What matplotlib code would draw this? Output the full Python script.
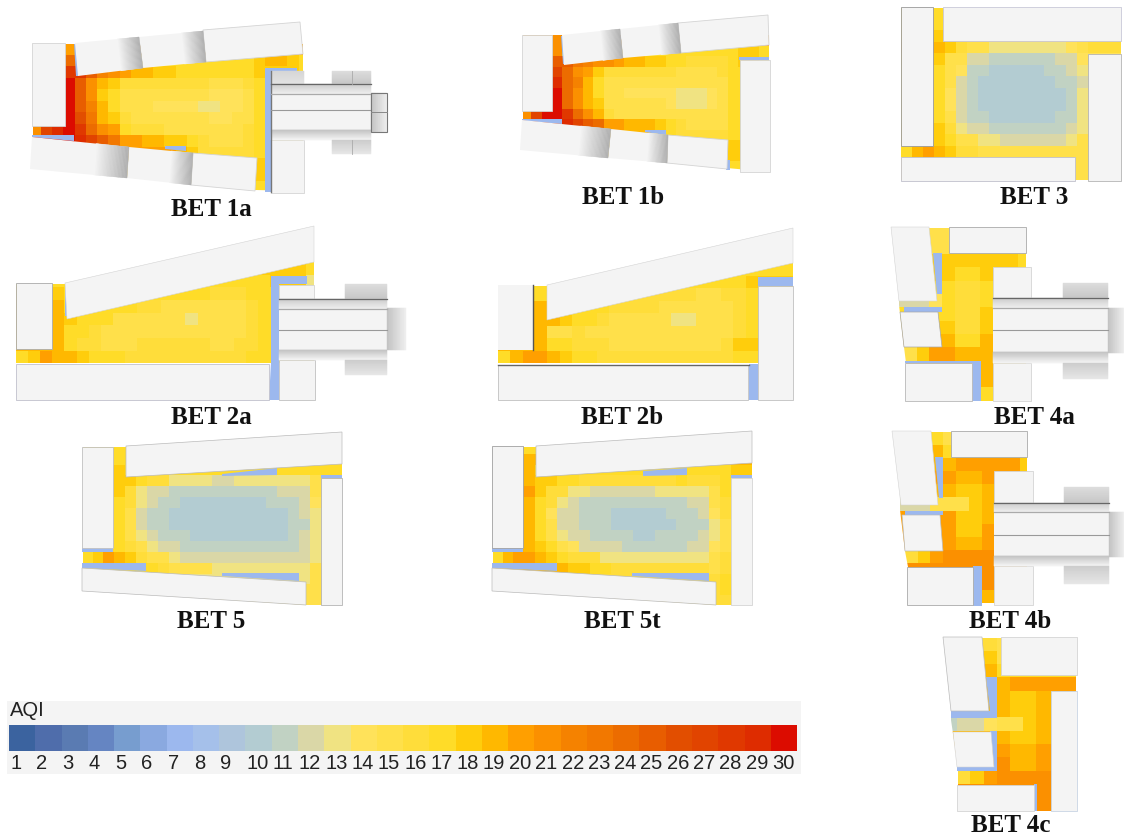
import numpy as np
import matplotlib
matplotlib.use('Agg')
import matplotlib.pyplot as plt
from matplotlib.colors import ListedColormap, BoundaryNorm
from matplotlib.patches import Polygon, Rectangle

# colour scale, AQI 1..30
aqi_values = list(range(1, 31))
aqi_colors = ['#3b639f', '#4f6dab', '#5a7bb2', '#6585c2', '#779dcf', '#8aa9e0', '#9cb8ee', '#a5c0ea',
              '#aec5dc', '#b3ccd2', '#c1d2c3', '#dad7a7', '#f0e382', '#ffe25a', '#ffe04a', '#ffdd3a',
              '#ffdc28', '#ffcd0c', '#ffb800', '#ff9f00', '#fb9000', '#f58200', '#f27800', '#ec6c00',
              '#e85d00', '#e24e00', '#e14400', '#e03800', '#de2c00', '#dc0c00']

# AQI cells per scenario, 0 = hidden behind a building
bet_1a = [
    [0, 0, 0, 20],
    [0, 0, 0, 24, 24, 0, 0, 0, 0, 0, 0, 0, 0, 0, 0, 0, 0, 0, 0, 17, 18, 19, 19, 18, 17],
    [0, 0, 0, 28, 28, 25, 22, 21, 20, 19, 19, 18, 18, 17, 17, 17, 17, 17, 17, 17, 18, 18, 18, 18, 17],
    [0, 0, 0, 30, 25, 21, 19, 18, 16, 16, 16, 16, 16, 16, 16, 16, 15, 15, 15, 16, 17],
    [0, 0, 0, 30, 25, 21, 18, 17, 15, 15, 15, 15, 15, 15, 15, 15, 14, 14, 14, 15, 17],
    [0, 0, 0, 30, 25, 22, 19, 17, 15, 15, 15, 14, 14, 14, 14, 13, 13, 14, 14, 15, 17],
    [0, 0, 0, 30, 26, 23, 19, 18, 16, 15, 15, 15, 15, 15, 15, 15, 14, 14, 15, 15, 17],
    [21, 27, 29, 30, 28, 24, 21, 20, 17, 16, 16, 16, 15, 15, 15, 15, 15, 15, 15, 16, 17],
    [0, 0, 0, 30, 29, 27, 25, 23, 20, 20, 19, 19, 18, 18, 17, 16, 15, 15, 15, 16, 17],
    [0, 0, 0, 0, 0, 0, 0, 0, 0, 0, 0, 0, 20, 19, 18, 16, 16, 16, 16, 16, 17],
    [0, 0, 0, 0, 0, 0, 0, 0, 0, 0, 0, 0, 0, 0, 0, 0, 0, 0, 0, 0, 18],
    [0, 0, 0, 0, 0, 0, 0, 0, 0, 0, 0, 0, 0, 0, 0, 0, 0, 0, 0, 0, 18],
    [0, 0, 0, 0, 0, 0, 0, 0, 0, 0, 0, 0, 0, 0, 0, 0, 0, 0, 0, 0, 17],
]
bet_1b = [
    [0, 0, 0, 21],
    [0, 0, 0, 21, 0, 0, 0, 0, 0, 0, 0, 0, 0, 0, 0, 17, 17, 17, 17, 17, 17, 18, 18, 17],
    [0, 0, 0, 25, 25, 23, 22, 21, 21, 20, 19, 19, 18, 18, 17, 17, 16, 16, 16, 16, 17, 18, 18, 17],
    [0, 0, 0, 27, 24, 21, 20, 18, 16, 16, 16, 16, 16, 16, 16, 15, 15, 15, 15, 16, 17],
    [0, 0, 0, 29, 24, 22, 19, 17, 15, 15, 15, 15, 15, 15, 15, 15, 15, 15, 15, 15, 17],
    [0, 0, 0, 30, 24, 21, 19, 17, 15, 15, 14, 14, 14, 14, 14, 13, 13, 13, 14, 15, 17],
    [0, 0, 0, 30, 24, 21, 19, 18, 15, 15, 15, 15, 15, 15, 14, 13, 13, 13, 14, 15, 17],
    [21, 27, 30, 30, 28, 24, 21, 19, 16, 15, 15, 15, 15, 15, 15, 15, 15, 15, 15, 15, 17],
    [0, 0, 0, 28, 29, 27, 25, 24, 20, 20, 19, 19, 19, 18, 17, 16, 15, 15, 15, 15, 17],
    [0, 0, 0, 0, 0, 0, 0, 0, 0, 0, 0, 0, 19, 18, 17, 16, 16, 16, 16, 16, 17],
    [0, 0, 0, 0, 0, 0, 0, 0, 0, 0, 0, 0, 0, 0, 0, 0, 0, 0, 0, 0, 18],
    [0, 0, 0, 0, 0, 0, 0, 0, 0, 0, 0, 0, 0, 0, 0, 0, 0, 0, 0, 0, 18],
    [0, 0, 0, 0, 0, 0, 0, 0, 0, 0, 0, 0, 0, 0, 0, 0, 0, 0, 0, 0, 17],
]
bet_3 = [
    [0, 0, 0, 17],
    [0, 0, 0, 17],
    [0, 0, 0, 18],
    [0, 0, 0, 19, 18, 16, 15, 15, 13, 13, 13, 13, 13, 13, 13, 14, 15, 16, 16, 16],
    [0, 0, 0, 18, 15, 15, 12, 12, 11, 11, 11, 11, 11, 11, 12, 12, 14],
    [0, 0, 0, 17, 15, 14, 11, 11, 10, 10, 10, 10, 10, 11, 11, 12, 13],
    [0, 0, 0, 17, 15, 12, 11, 10, 10, 10, 10, 10, 10, 10, 11, 11, 12],
    [0, 0, 0, 17, 14, 12, 11, 10, 10, 10, 10, 10, 10, 10, 10, 11, 13],
    [0, 0, 0, 17, 14, 12, 11, 10, 10, 10, 10, 10, 10, 10, 10, 11, 13],
    [0, 0, 0, 17, 15, 12, 11, 11, 10, 10, 10, 10, 10, 10, 11, 11, 13],
    [0, 0, 0, 18, 16, 13, 12, 12, 11, 11, 11, 11, 11, 11, 11, 12, 13],
    [0, 0, 0, 18, 17, 15, 15, 13, 13, 12, 12, 12, 12, 12, 12, 13, 15],
    [17, 19, 20, 19, 18, 16, 16, 15, 15, 15, 15, 15, 15, 15, 15, 15, 15],
    [0, 0, 0, 0, 0, 0, 0, 0, 0, 0, 0, 0, 0, 0, 0, 0, 15],
    [0, 0, 0, 0, 0, 0, 0, 0, 0, 0, 0, 0, 0, 0, 0, 0, 15],
]
bet_2a = [
    [0, 0, 0, 0, 0, 0, 0, 0, 0, 0, 0, 0, 0, 0, 0, 0, 0, 0, 0, 0, 0, 18, 18, 18, 17],
    [0, 0, 0, 17, 0, 0, 0, 0, 0, 0, 0, 0, 0, 0, 0, 0, 0, 17, 17, 17, 17, 18, 18, 18, 13],
    [0, 0, 0, 18, 0, 0, 0, 0, 0, 0, 0, 0, 0, 0, 17, 17, 16, 16, 16, 17, 17],
    [0, 0, 0, 19, 0, 0, 0, 0, 17, 17, 16, 16, 15, 15, 15, 15, 15, 15, 15, 16, 17],
    [0, 0, 0, 19, 18, 17, 17, 17, 15, 15, 15, 15, 15, 15, 13, 15, 15, 15, 15, 16, 17],
    [0, 0, 0, 19, 17, 17, 16, 15, 15, 15, 15, 15, 15, 15, 15, 15, 15, 15, 15, 16, 17],
    [0, 0, 0, 19, 17, 16, 16, 15, 15, 15, 16, 16, 16, 16, 16, 16, 15, 15, 16, 16, 17],
    [17, 18, 20, 19, 19, 18, 17, 17, 17, 16, 16, 16, 16, 16, 16, 16, 16, 16, 16, 17, 17],
]
bet_2b = [
    [0, 0, 0, 0, 0, 0, 0, 0, 0, 0, 0, 0, 0, 0, 0, 0, 0, 0, 0, 0, 17, 17, 17, 17],
    [0, 0, 0, 17, 0, 0, 0, 0, 0, 0, 0, 0, 0, 0, 0, 0, 17, 17, 17, 17, 18],
    [0, 0, 0, 17, 0, 0, 0, 0, 0, 0, 0, 0, 16, 16, 16, 16, 15, 15, 16, 16, 17],
    [0, 0, 0, 19, 0, 0, 0, 0, 17, 16, 16, 16, 16, 15, 15, 15, 15, 15, 15, 16, 17],
    [0, 0, 0, 19, 19, 18, 17, 17, 16, 15, 15, 15, 15, 15, 13, 13, 15, 15, 15, 16, 17],
    [0, 0, 0, 19, 15, 15, 16, 15, 15, 15, 15, 15, 15, 15, 15, 15, 15, 15, 15, 16, 17],
    [0, 0, 0, 19, 17, 17, 16, 16, 16, 15, 15, 15, 15, 15, 15, 15, 15, 15, 16, 18, 18],
    [17, 19, 20, 20, 19, 18, 17, 17, 16, 16, 16, 16, 16, 16, 16, 16, 16, 16, 16, 17, 17],
]
bet_5 = [
    [0, 0, 0, 17],
    [0, 0, 0, 17],
    [0, 0, 0, 18, 0, 0, 0, 0, 0, 0, 0, 0, 0, 0, 0, 0, 0, 0, 17, 17, 17, 17, 17, 17],
    [0, 0, 0, 18, 18, 17, 16, 16, 13, 13, 13, 13, 12, 12, 13, 13, 13, 13, 13, 13, 13, 15],
    [0, 0, 0, 18, 16, 13, 12, 12, 11, 11, 11, 11, 11, 11, 11, 11, 11, 11, 12, 12, 12, 15],
    [0, 0, 0, 17, 16, 13, 12, 11, 11, 10, 10, 10, 10, 10, 10, 10, 10, 11, 11, 11, 12, 14],
    [0, 0, 0, 17, 15, 12, 11, 11, 10, 10, 10, 10, 10, 10, 10, 10, 10, 10, 10, 11, 12, 13],
    [0, 0, 0, 17, 15, 12, 11, 11, 10, 10, 10, 10, 10, 10, 10, 10, 10, 10, 10, 11, 11, 13],
    [0, 0, 0, 17, 15, 13, 12, 11, 11, 11, 10, 10, 10, 10, 10, 10, 10, 10, 10, 11, 12, 13],
    [0, 0, 0, 17, 16, 15, 13, 12, 12, 11, 11, 11, 11, 11, 11, 11, 11, 11, 11, 11, 12, 13],
    [17, 18, 20, 19, 18, 16, 15, 15, 13, 12, 12, 12, 12, 12, 12, 12, 12, 12, 12, 12, 12, 13],
    [0, 0, 0, 0, 0, 0, 17, 16, 15, 15, 15, 15, 13, 13, 13, 13, 13, 13, 13, 13, 13, 15],
    [0, 0, 0, 0, 0, 0, 0, 0, 0, 0, 0, 0, 0, 0, 0, 0, 0, 0, 0, 0, 13, 15],
    [0, 0, 0, 0, 0, 0, 0, 0, 0, 0, 0, 0, 0, 0, 0, 0, 0, 0, 0, 0, 15, 15],
    [0, 0, 0, 0, 0, 0, 0, 0, 0, 0, 0, 0, 0, 0, 0, 0, 0, 0, 0, 0, 15, 15],
]
bet_5t = [
    [0, 0, 0, 17],
    [0, 0, 0, 19],
    [0, 0, 0, 19, 0, 0, 0, 0, 0, 0, 0, 0, 0, 0, 0, 0, 0, 0, 17, 17, 17, 17, 18, 18],
    [0, 0, 0, 19, 18, 18, 17, 17, 16, 16, 16, 16, 16, 16, 16, 16, 16, 17, 16, 16, 16, 17],
    [0, 0, 0, 20, 18, 16, 16, 13, 13, 12, 12, 12, 12, 12, 12, 13, 13, 13, 13, 13, 15, 17],
    [0, 0, 0, 19, 17, 16, 13, 12, 11, 11, 11, 11, 11, 11, 11, 11, 11, 11, 12, 12, 15, 16],
    [0, 0, 0, 19, 17, 14, 12, 12, 11, 11, 11, 10, 10, 10, 10, 10, 11, 11, 11, 12, 14, 16],
    [0, 0, 0, 19, 17, 15, 12, 12, 11, 11, 11, 10, 10, 10, 10, 10, 10, 11, 11, 11, 13, 15],
    [0, 0, 0, 19, 17, 15, 13, 12, 12, 11, 11, 11, 11, 10, 10, 11, 11, 11, 11, 12, 13, 15],
    [0, 0, 0, 19, 18, 17, 15, 14, 12, 12, 12, 12, 11, 11, 11, 11, 11, 11, 12, 12, 14, 15],
    [17, 19, 20, 20, 19, 18, 17, 16, 16, 16, 13, 13, 13, 13, 13, 13, 13, 13, 13, 13, 15, 16],
    [0, 0, 0, 0, 0, 0, 19, 18, 18, 17, 17, 16, 16, 16, 16, 16, 16, 16, 16, 16, 15, 16],
    [0, 0, 0, 0, 0, 0, 0, 0, 0, 0, 0, 0, 0, 0, 0, 0, 0, 0, 0, 0, 16, 17],
    [0, 0, 0, 0, 0, 0, 0, 0, 0, 0, 0, 0, 0, 0, 0, 0, 0, 0, 0, 0, 16, 17],
    [0, 0, 0, 0, 0, 0, 0, 0, 0, 0, 0, 0, 0, 0, 0, 0, 0, 0, 0, 0, 16, 16],
]
bet_4a = [
    [0, 0, 0, 15, 15],
    [0, 0, 0, 15, 15],
    [0, 0, 0, 0, 18, 18, 18, 18, 18, 18, 17],
    [0, 0, 0, 0, 18, 17, 17, 18],
    [0, 0, 0, 0, 17, 16, 16, 17],
    [12, 12, 12, 14, 17, 16, 16, 17],
    [0, 0, 0, 0, 17, 16, 16, 18],
    [0, 0, 0, 0, 18, 16, 16, 18],
    [0, 0, 0, 0, 19, 17, 17, 19],
    [0, 15, 18, 20, 20, 19, 19, 19],
    [0, 0, 0, 0, 0, 0, 0, 19],
    [0, 0, 0, 0, 0, 0, 0, 19],
    [0, 0, 0, 0, 0, 0, 0, 17],
]
bet_4b = [
    [0, 0, 0, 17, 15],
    [0, 0, 0, 19, 17],
    [0, 0, 0, 0, 19, 20, 20, 20, 20, 20, 18],
    [0, 0, 0, 0, 20, 19, 19, 20],
    [0, 0, 0, 0, 19, 18, 18, 19],
    [12, 12, 12, 15, 15, 15, 18, 19],
    [0, 0, 0, 0, 20, 18, 18, 19],
    [0, 0, 0, 0, 20, 18, 18, 20],
    [0, 0, 0, 0, 20, 19, 19, 20],
    [0, 16, 18, 20, 21, 21, 21, 21],
    [0, 0, 0, 0, 0, 0, 0, 21],
    [0, 0, 0, 0, 0, 0, 0, 21],
    [0, 0, 0, 0, 0, 0, 0, 19],
]
bet_4c = [
    [0, 0, 0, 16, 15],
    [0, 0, 0, 18, 15],
    [0, 0, 0, 19, 17],
    [0, 0, 0, 0, 19, 20, 20, 20, 20, 20],
    [0, 0, 0, 0, 19, 18, 18, 19],
    [0, 0, 0, 0, 19, 18, 18, 19],
    [11, 12, 12, 14, 15, 15, 18, 19],
    [0, 0, 0, 0, 19, 18, 18, 19],
    [0, 0, 0, 0, 20, 19, 19, 20],
    [0, 0, 0, 0, 21, 19, 19, 20],
    [0, 16, 18, 20, 21, 21, 21, 21],
    [0, 0, 0, 0, 0, 0, 0, 21],
    [0, 0, 0, 0, 0, 0, 0, 21],
]

cmap = ListedColormap(aqi_colors)
norm = BoundaryNorm(np.arange(0.5, 31.5), 30)
WALL = '#f4f4f4'
BLUE = aqi_colors[6]

fig = plt.figure(figsize=(11.24, 8.39), dpi=100)
ax = fig.add_axes([0, 0, 1, 1])
ax.set_xlim(0, 1124)
ax.set_ylim(839, 0)
ax.axis('off')


def heat(grid, x0, y0, dx, dy, clip):
    w = max(len(r) for r in grid)
    z = np.array([r + [0] * (w - len(r)) for r in grid], dtype=float)
    # hidden cells take the next value in the row so no gap shows at a building edge
    for row in z:
        known = np.nonzero(row)[0]
        for j in np.where(row == 0)[0]:
            right = known[known > j]
            row[j] = row[right[0]] if len(right) else row[known[-1]]
    xs = x0 + dx * np.arange(w + 1)
    ys = y0 + dy * np.arange(len(grid) + 1)
    m = ax.pcolormesh(xs, ys, z, cmap=cmap, norm=norm, zorder=1)
    m.set_clip_path(Polygon(clip, transform=ax.transData))


def blue(pts):
    ax.add_patch(Polygon(pts, fc=BLUE, ec='none', zorder=2))


def wall(pts, ec='none', lw=0.6):
    ax.add_patch(Polygon(pts, fc=WALL, ec=ec, lw=lw, zorder=3))


def box(x0, y0, x1, y1, ec='none', lw=0.6):
    wall([(x0, y0), (x1, y0), (x1, y1), (x0, y1)], ec, lw)


# gray ramp along the p00->p10 direction of a quad
def shade(quad, g0, g1, t0=0.0, t1=1.0, n=24):
    a, b, c, d = [np.array(p, dtype=float) for p in quad]
    ts = np.linspace(t0, t1, n + 1)
    gs = np.linspace(g0, g1, n)
    for i in range(n):
        p0 = a + (b - a) * ts[i]
        p1 = a + (b - a) * ts[i + 1]
        p2 = d + (c - d) * ts[i + 1]
        p3 = d + (c - d) * ts[i]
        col = (gs[i] / 255.0,) * 3
        ax.add_patch(Polygon([p0, p1, p2, p3], fc=col, ec=col, lw=0.3, zorder=3.5))


def tilted(quad, dark=176):
    wall(quad)
    shade(quad, 244, dark, 0.66, 1.0)


def vbox(x0, y0, x1, y1, g0, g1):
    shade([(x0, y0), (x0, y1), (x1, y1), (x1, y0)], g0, g1)


def hbox(x0, y0, x1, y1, g0, g1):
    shade([(x0, y0), (x1, y0), (x1, y1), (x0, y1)], g0, g1)


def jetty(x0, x1, ys, cap, small, line=0.9):
    y0, y1, ym, y2, y3 = ys
    vbox(x0, y0, x1, y1, 205, 238)
    box(x0, y1, x1, y2)
    vbox(x0, y2, x1, y3, 195, 244)
    ax.plot([x0, x1], [y0, y0], color='#666666', lw=line, zorder=4)
    ax.plot([x0, x1], [y1, y1], color='#aaaaaa', lw=line, zorder=4)
    ax.plot([x0, x1], [ym, ym], color='#999999', lw=0.8, zorder=4)
    hbox(x1, cap[0], cap[1], cap[2], 195, 238)
    sx, sy0, sy1, sy2, sy3 = small
    vbox(sx, sy0, x1, sy1, 222, 200)
    vbox(sx, sy2, x1, sy3, 205, 230)


def label(s, x, y):
    ax.text(x, y, s, ha='center', va='center', fontsize=18, fontweight='bold',
            family='Liberation Serif', color='#111111', zorder=6)


EDGE = '#d4d4d4'

# BET 1a
heat(bet_1a, 29.9, 43.3, 11.2, 11.5, [(33, 44), (303, 44), (303, 191), (255, 190), (33, 168)])
blue([(74, 44), (78, 44), (78, 76), (76, 76)])
blue([(32, 135), (74, 135), (74, 141), (32, 137)])
blue([(165, 146), (186, 146), (186, 151), (165, 149)])
blue([(265, 68), (297, 68), (297, 71), (271, 71), (271, 192), (265, 192)])
box(32, 43, 65, 126, EDGE)
tilted([(75, 43), (139, 37), (143, 68), (78, 76)])
tilted([(139, 37), (203, 31), (206, 62), (143, 68)])
wall([(203, 30), (300, 22), (303, 54), (206, 62)], EDGE)
tilted([(32, 137), (129, 147), (127, 178), (30, 169)])
tilted([(129, 147), (193, 153), (191, 185), (127, 178)])
wall([(193, 153), (257, 158), (255, 191), (191, 185)], EDGE)
box(271, 140, 304, 193, EDGE)
ax.plot([271, 271], [71, 192], color='#777777', lw=1, zorder=4)
vbox(271, 71, 304, 84, 214, 226)
jetty(271, 371, (84, 94, 110, 130, 140), (93, 387, 132), (332, 71, 84, 140, 154))
ax.add_patch(Rectangle((371, 93), 16, 39, fc='none', ec='#777777', lw=0.8, zorder=4))
ax.plot([371, 387], [112, 112], color='#888888', lw=0.7, zorder=4)
ax.plot([352, 352], [71, 84], color='#aaaaaa', lw=0.6, zorder=4)
ax.plot([352, 352], [140, 154], color='#aaaaaa', lw=0.6, zorder=4)
label('BET 1a', 211, 210)

# BET 1b
heat(bet_1b, 521, 35, 10.33, 10.5, [(523, 35), (770, 35), (770, 172), (727, 168), (523, 149)])
blue([(561, 36), (564, 36), (565, 64), (563, 64)])
blue([(522, 119), (562, 119), (562, 124), (522, 120.5)])
blue([(645, 130), (666, 130), (666, 135), (645, 132)])
blue([(739, 57), (769, 57), (769, 60), (739, 60)])
blue([(726, 160), (730, 160), (730, 170), (726, 170)])
box(522, 35, 552, 111, EDGE)
tilted([(562, 35), (620, 29), (623, 58), (564, 65)])
tilted([(620, 29), (678, 23), (681, 53), (623, 58)])
wall([(678, 23), (768, 15), (769, 45), (681, 53)], EDGE)
tilted([(522, 120), (611, 129), (608, 158), (520, 150)])
tilted([(611, 129), (668, 135), (667, 163), (608, 158)])
wall([(668, 135), (728, 140), (727, 169), (667, 163)], EDGE)
box(740, 60, 770, 172, EDGE)
label('BET 1b', 623, 197)

# BET 3
heat(bet_3, 900.7, 7.3, 11, 11.53, [(901, 8), (1121, 8), (1121, 181), (901, 181)])
box(901, 7, 933, 146, '#999999')
box(943, 7, 1121, 41, '#c8c8d8')
box(1088, 54, 1121, 181, '#b4b4b4')
box(901, 157, 1075, 181, '#c0c0cc')
label('BET 3', 1034, 197)

# BET 2a
heat(bet_2a, 16, 262, 12.1, 12.67, [(16, 284), (65, 284), (314, 227), (314, 400), (16, 400)])
blue([(271, 276), (307, 276), (307, 284), (279, 284), (279, 400), (269, 400), (271, 362)])
blue([(65, 283), (67, 283), (67, 316), (65, 316)])
box(16, 283, 52, 349, '#aaaaaa')
wall([(65, 283), (314, 226), (314, 262), (67, 319)], EDGE, 0.4)
box(16, 364, 269, 400, '#c0c0cc')
box(279, 360, 315, 400, '#c0c0c0')
box(279, 285, 314, 299, EDGE)
jetty(279, 387, (299, 309, 330, 350, 360), (308, 406, 350), (345, 284, 299, 360, 375))
label('BET 2a', 211, 417)

# BET 2b
heat(bet_2b, 497.7, 263.3, 12.4, 12.5, [(498, 286), (547, 286), (793, 229), (793, 400), (498, 400)])
blue([(758, 277), (793, 277), (793, 286), (758, 286)])
blue([(749, 364), (758, 364), (758, 400), (749, 400)])
box(498, 285, 533, 350)
ax.plot([533, 533], [285, 350], color='#555555', lw=1, zorder=4)
wall([(547, 285), (793, 228), (793, 263), (547, 320)], EDGE, 0.4)
box(498, 365, 748, 400, '#c0c0c0')
ax.plot([498, 749], [365, 365], color='#666666', lw=1, zorder=4)
box(758, 286, 793, 400, '#c0c0c0')
label('BET 2b', 622, 418)

# BET 5
heat(bet_5, 81.7, 442.7, 10.87, 10.9, [(83, 447), (126, 447), (342, 433), (342, 605), (306, 605), (83, 590)])
blue([(82, 548), (113, 548), (113, 552), (82, 552)])
blue([(82, 563), (146, 563), (146, 571), (82, 568)])
blue([(222, 474), (277, 468), (277, 475), (222, 476)])
blue([(222, 573), (299, 573), (299, 581), (222, 576)])
blue([(321, 475), (342, 475), (342, 478), (321, 478)])
box(82, 447, 113, 548, '#c0c0c0')
wall([(126, 446), (342, 432), (342, 464), (126, 477)], '#bbbbbb', 0.5)
box(321, 478, 342, 605, '#b4b4b4')
wall([(82, 568), (306, 582), (306, 605), (82, 591)], '#bbbbbb', 0.5)
label('BET 5', 211, 622)

# BET 5t
heat(bet_5t, 491.7, 442.7, 10.87, 10.9, [(493, 447), (536, 447), (752, 432), (752, 605), (716, 605), (493, 590)])
blue([(492, 548), (523, 548), (523, 552), (492, 552)])
blue([(492, 563), (557, 563), (557, 571), (492, 568)])
blue([(643, 471), (687, 468), (687, 475), (643, 476)])
blue([(632, 573), (709, 573), (709, 581), (632, 576)])
blue([(731, 475), (752, 475), (752, 478), (731, 478)])
box(492, 446, 523, 548, '#a0a0a0')
wall([(536, 446), (752, 431), (752, 463), (536, 477)], '#bbbbbb', 0.5)
box(731, 478, 752, 605, EDGE)
wall([(492, 568), (716, 582), (716, 605), (492, 591)], '#bbbbbb', 0.5)
label('BET 5t', 622, 622)

# BET 4a
heat(bet_4a, 891.3, 227.3, 12.65, 13.33,
     [(899, 228), (1026, 228), (1026, 401), (906, 401), (906, 363), (904, 347), (899, 305)])
blue([(933, 253), (942, 253), (942, 294), (937, 294)])
blue([(904, 307), (942, 307), (942, 312), (904, 312)])
blue([(905, 361), (972, 361), (972, 363), (905, 363)])
blue([(972, 361), (981, 361), (981, 401), (972, 401)])
wall([(891, 227), (929, 227), (937, 301), (899, 301)], EDGE, 0.4)
wall([(900, 312), (938, 312), (942, 347), (904, 347)], '#a8a8a8', 0.5)
box(905, 363, 972, 401, '#b8b8b8')
box(949, 227, 1026, 253, '#aaaaaa')
box(993, 267, 1031, 298, EDGE)
box(993, 363, 1031, 401, EDGE)
jetty(993, 1108, (298, 308, 330, 352, 363), (308, 1124, 353), (1063, 283, 298, 363, 379))
label('BET 4a', 1034, 417)

# BET 4b
heat(bet_4b, 892, 431.3, 12.8, 13.2,
     [(900, 432), (1027, 432), (1027, 605), (908, 605), (908, 567), (905, 551), (900, 510)])
blue([(935, 457), (943, 457), (943, 498), (939, 498)])
blue([(905, 511), (943, 511), (943, 515), (905, 515)])
blue([(973, 566), (982, 566), (982, 606), (973, 606)])
wall([(892, 431), (931, 431), (938, 505), (901, 505)], EDGE, 0.4)
wall([(902, 515), (940, 515), (943, 551), (905, 551)], '#bbbbbb', 0.5)
box(907, 567, 973, 605, '#aaaaaa')
box(951, 431, 1027, 457, '#aaaaaa')
box(994, 471, 1033, 503, EDGE)
box(994, 566, 1033, 605, EDGE)
jetty(994, 1109, (503, 512, 535, 556, 566), (512, 1124, 557), (1064, 487, 503, 566, 584))
label('BET 4b', 1010, 622)

# BET 4c
heat(bet_4c, 944, 637.3, 13.2, 13.33,
     [(951, 638), (1077, 638), (1077, 811), (958, 811), (958, 767), (951, 720)])
blue([(986, 677), (997, 677), (997, 718), (951, 718), (951, 711), (990, 711)])
blue([(990, 731), (997, 731), (997, 771), (957, 771), (957, 767), (994, 767)])
blue([(1034, 784), (1037, 784), (1037, 811), (1034, 811)])
wall([(943, 637), (982, 637), (989, 711), (951, 711)], '#bbbbbb', 0.5)
wall([(953, 732), (991, 732), (994, 767), (957, 767)], EDGE, 0.4)
box(957, 785, 1034, 811, EDGE)
box(1001, 637, 1077, 675, EDGE)
box(1051, 691, 1077, 811, '#c8d4e4')
label('BET 4c', 1011, 825)

# legend
ax.add_patch(Rectangle((7, 701), 794, 73, fc='#f4f4f4', ec='none', zorder=0))
scale_x = 9 + 26.27 * np.arange(31)
ax.pcolormesh(scale_x, [725, 751], np.array([aqi_values], dtype=float), cmap=cmap, norm=norm, zorder=1)
ax.text(9.5, 711, 'AQI', ha='left', va='center', fontsize=14.5, family='Liberation Sans', color='#222222')
for v, x in zip(aqi_values, scale_x):
    ax.text(x + 1, 763.5, str(v), ha='left', va='center', fontsize=14.5, family='Liberation Sans', color='#222222')

fig.savefig('out.png', dpi=100)
